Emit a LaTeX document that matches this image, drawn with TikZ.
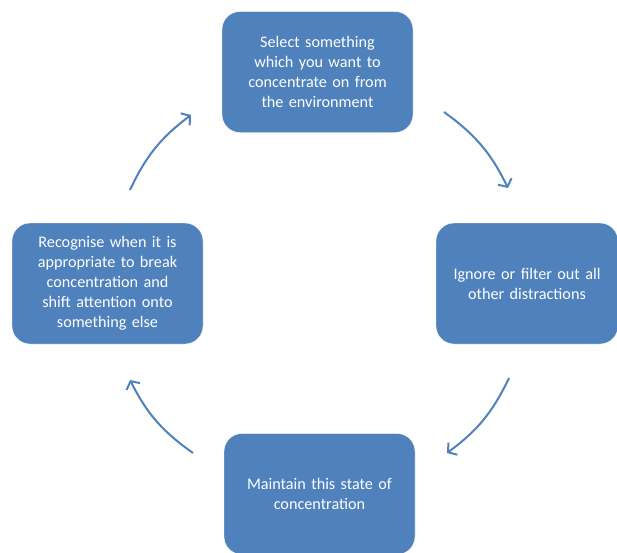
\documentclass[tikz,border=0pt]{standalone}
\usepackage{fontspec}
\setmainfont{Carlito}
\usetikzlibrary{arrows.meta}
\definecolor{stepblue}{HTML}{4F81BD}
\tikzset{
  font=\fontsize{16.2}{20}\selectfont,
  stage/.style={
    fill=stepblue,
    draw=white,
    rounded corners=18pt,
    text=white,
    align=center,
    text width=185pt,
    minimum width=191pt,
    minimum height=121pt,
    inner sep=3pt
  },
  arrow/.style={-{Straight Barb[length=6pt,width=15pt]}, line width=2pt, draw=stepblue}
}
\begin{document}
\begin{tikzpicture}[x=1pt,y=1pt]

\useasboundingbox (0,0) rectangle (617,-552);
\begin{scope}
\clip (0,0) rectangle (617,-552);

% the four stages of the cycle
\node[stage] (select) at (317.5,-72) {Select something\\which you want to\\concentrate on from\\the environment};
\node[stage, text width=175pt, minimum width=182pt] (ignore) at (527,-283.5) {Ignore or filter out all\\other distractions};
\node[stage] (maintain) at (319.5,-494) {Maintain this state of\\concentration};
\node[stage] (shift) at (107.5,-283.5) {Recognise when it is\\appropriate to break\\concentration and\\shift attention onto\\something else};

% arc ends
\coordinate (a1s) at (444,-112);
\coordinate (a1e) at (508,-188);
\coordinate (a2s) at (509,-378);
\coordinate (a2e) at (447,-453);
\coordinate (a3s) at (193,-453);
\coordinate (a3e) at (130,-380);
\coordinate (a4s) at (130,-190);
\coordinate (a4e) at (191,-115);

% Connections
\draw[arrow] (a1s) to[bend left=14] (a1e);
\draw[arrow] (a2s) to[bend left=14] (a2e);
\draw[arrow] (a3s) to[bend left=14] (a3e);
\draw[arrow] (a4s) to[bend left=14] (a4e);

\end{scope}
\end{tikzpicture}
\end{document}
